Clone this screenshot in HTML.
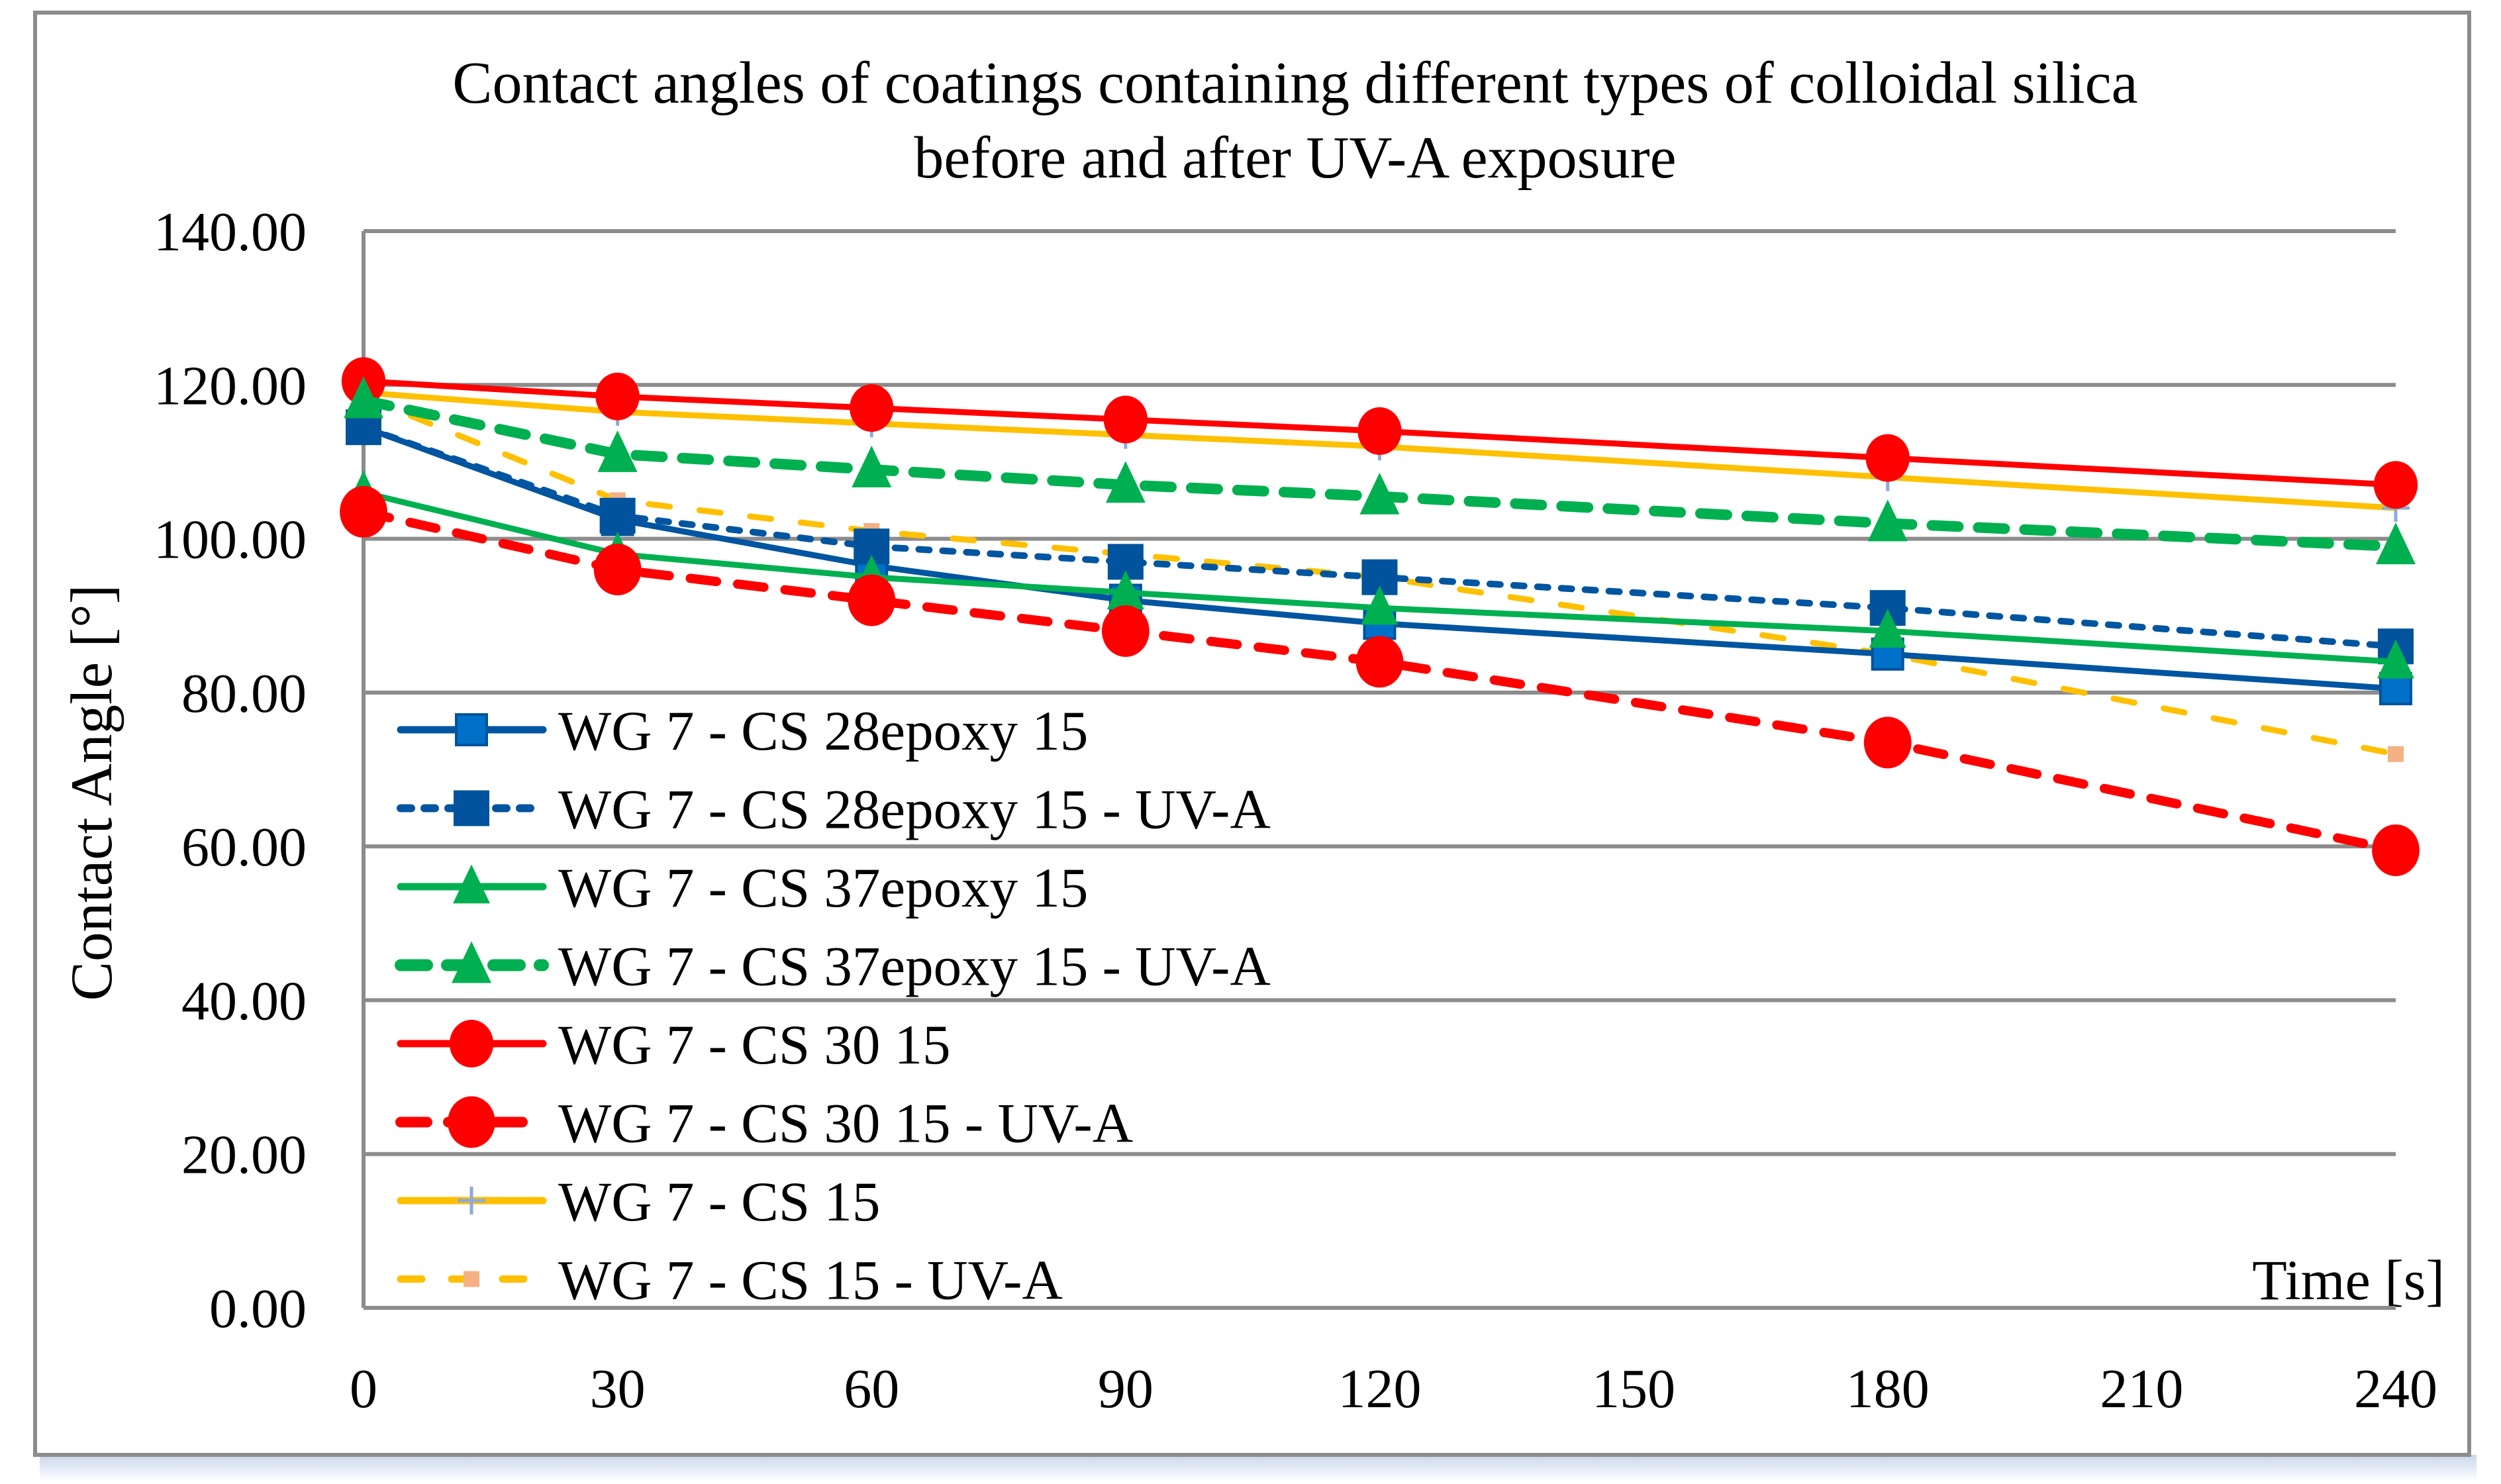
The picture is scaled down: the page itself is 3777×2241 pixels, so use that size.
<!DOCTYPE html>
<html><head><meta charset="utf-8"><style>
html,body{margin:0;padding:0;background:#fff;}
svg{display:block;font-family:"Liberation Serif",serif;}
</style></head><body>
<svg id="chart" width="3777" height="2241" viewBox="0 0 3777 2241" xmlns="http://www.w3.org/2000/svg">
<defs>
<linearGradient id="sh" x1="0" y1="0" x2="0" y2="1"><stop offset="0" stop-color="#c9d6ea"/><stop offset="1" stop-color="#fff"/></linearGradient>
</defs>
<rect x="60" y="2197" width="3680" height="40" fill="url(#sh)"/>
<rect x="53" y="19" width="3676" height="2178" fill="#fff" stroke="#8c8c8c" stroke-width="6"/>
<text x="1956" y="155" text-anchor="middle" font-size="90">Contact angles of coatings containing different types of colloidal silica</text>
<text x="1956" y="268" text-anchor="middle" font-size="90">before and after UV-A exposure</text>
<text transform="translate(168,1197) rotate(-90)" text-anchor="middle" font-size="89">Contact Angle [°]</text>
<text x="3692" y="1962" text-anchor="end" font-size="86">Time [s]</text>
<g id="grid"></g>
<g id="series"></g>
<g id="legend"></g>
</svg>
<script>
const xTicks = [0,30,60,90,120,150,180,210,240];
const yTicks = [0,20,40,60,80,100,120,140];
const times = [0,30,60,90,120,180,240];
const blueSolid = [114.5,102.5,96.5,92,89,85,80.5];
const blueDash = [114.5,103,99,97,95,91,86];
const greenSolid = [106,98,95,93,91,88,84];
const greenDash = [118,111,109,107,105.5,102,99];
const redSolid = [120.5,118.5,117,115.5,114,110.5,107];
const redDash = [103.5,96,92,88,84,73.5,59.5];
const yellowSolid = [119,116.5,115,113.5,112,108,104];
const yellowDash = [118.5,105,101,98,95,85,72];
const seriesNames = ["WG 7 - CS 28epoxy 15","WG 7 - CS 28epoxy 15 - UV-A","WG 7 - CS 37epoxy 15","WG 7 - CS 37epoxy 15 - UV-A","WG 7 - CS 30 15","WG 7 - CS 30 15 - UV-A","WG 7 - CS 15","WG 7 - CS 15 - UV-A"];

const X0=549,X1=3618,Y0=1975,Y1=349;
const xs=v=>X0+(v-0)/240*(X1-X0);
const ys=v=>Y0-(v-0)/140*(Y0-Y1);
const NS="http://www.w3.org/2000/svg";
function mk(tag,attrs,parent){const e=document.createElementNS(NS,tag);for(const k in attrs)e.setAttribute(k,attrs[k]);parent.appendChild(e);return e;}
const grid=document.getElementById('grid');
yTicks.forEach(t=>{
  const l=mk('line',{x1:X0,x2:X1,y1:ys(t),y2:ys(t),stroke:'#8c8c8c','stroke-width':6},grid);
  
  
  const tx=mk('text',{x:463,y:ys(t)+29,'text-anchor':'end','font-size':84},grid);
  tx.textContent=t.toFixed(2);
  
  
});
const ax=mk('line',{x1:X0,x2:X0,y1:Y1,y2:Y0,stroke:'#8c8c8c','stroke-width':6},grid);


xTicks.forEach(t=>{
  const tx=mk('text',{x:xs(t),y:2125,'text-anchor':'middle','font-size':84},grid);
  tx.textContent=String(t);
  
  
});

const styles=[
 {d:blueSolid,c:'#0055a0',w:9,dash:null,m:'sq',mc:'#0070c8',ms:46},
 {d:blueDash,c:'#0055a0',w:10,dash:'16 20',m:'sq',mc:'#00539c',ms:50},
 {d:greenSolid,c:'#00b050',w:9,dash:null,m:'tri',mc:'#00b050',ms:56},
 {d:greenDash,c:'#00b050',w:16,dash:'40 30',m:'tri',mc:'#00b050',ms:60},
 {d:redSolid,c:'#ff0000',w:9,dash:null,m:'circ',mc:'#ff0000',ms:36},
 {d:redDash,c:'#ff0000',w:14,dash:'40 32',m:'circ',mc:'#ff0000',ms:39},
 {d:yellowSolid,c:'#ffc000',w:9,dash:null,m:'plus',mc:'#8ea9db',ms:42},
 {d:yellowDash,c:'#ffc000',w:9,dash:'32 45',m:'sqs',mc:'#f4b183',ms:24}
];
function marker(g,s,x,y){
  let e;
  if(s.m==='sq'){e=mk('rect',{x:x-s.ms/2,y:y-s.ms/2,width:s.ms,height:s.ms,fill:s.mc,stroke:'#00539c','stroke-width':4},g);}
  else if(s.m==='sqs'){e=mk('rect',{x:x-s.ms/2,y:y-s.ms/2,width:s.ms,height:s.ms,fill:s.mc},g);}
  else if(s.m==='tri'){const h=s.ms;e=mk('polygon',{points:`${x},${y-h*0.6} ${x+h/2},${y+h*0.45} ${x-h/2},${y+h*0.45}`,fill:s.mc},g);}
  else if(s.m==='circ'){e=mk('ellipse',{cx:x,cy:y,rx:s.ms*0.92,ry:s.ms,fill:s.mc},g);}
  else {e=mk('path',{d:`M${x-s.ms/2},${y}H${x+s.ms/2}M${x},${y-s.ms/2}V${y+s.ms/2}`,stroke:s.mc,'stroke-width':5,fill:'none'},g);}
  return e;
}
const sg=document.getElementById('series');
const order=[6,7,4,0,1,2,3,5];
order.forEach(i=>{
  const s=styles[i];
  const g=mk('g',{},sg);
  
  
  const pts=times.map((t,j)=>xs(t)+','+ys(s.d[j])).join(' ');
  const attrs={points:pts,fill:'none',stroke:s.c,'stroke-width':s.w,'stroke-linejoin':'round','stroke-linecap':'round'};
  if(s.dash)attrs['stroke-dasharray']=s.dash;
  const pl=mk('polyline',attrs,g);
  
  
  times.forEach((t,j)=>{
    const m=marker(g,s,xs(t),ys(s.d[j]));
    
    
  });
});
const lg=document.getElementById('legend');
seriesNames.forEach((n,i)=>{
  const s=styles[i];
  const y=1102+i*118.5;
  const g=mk('g',{},lg);
  
  
  const attrs={x1:605,x2:820,y1:y,y2:y,stroke:s.c,'stroke-width':s.w+2,'stroke-linecap':'round'};
  if(s.dash)attrs['stroke-dasharray']=s.dash;
  mk('line',attrs,g);
  marker(g,s,712,y);
  const t=mk('text',{x:843,y:y+30,'font-size':85},g);
  t.textContent=n;
});
</script>
</body></html>
